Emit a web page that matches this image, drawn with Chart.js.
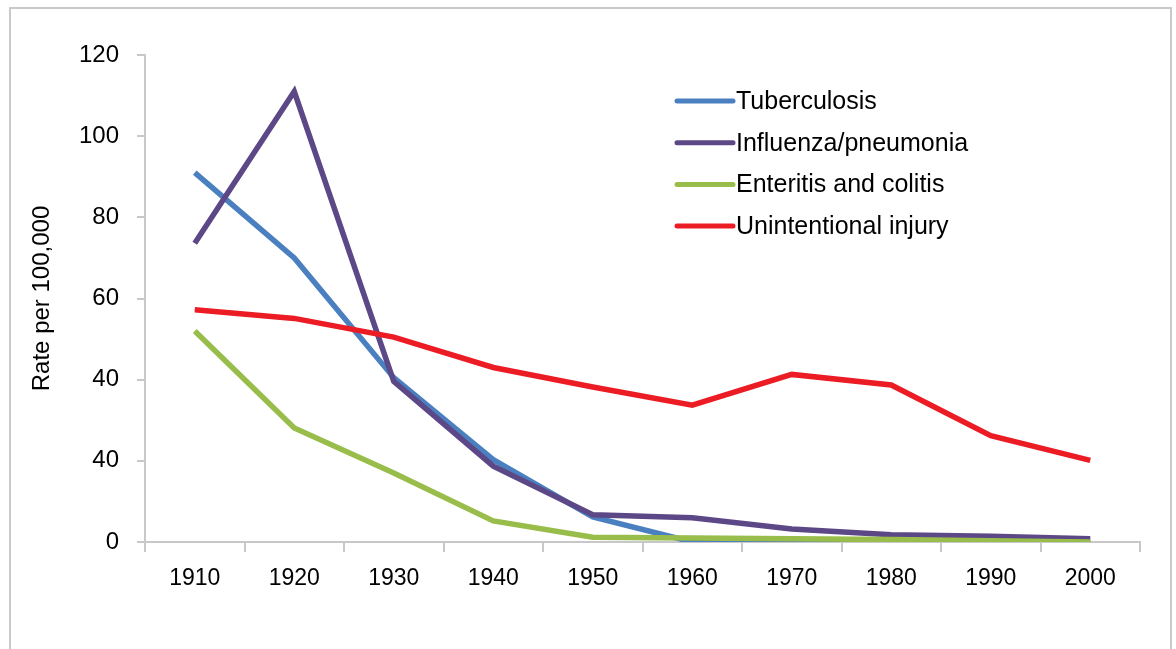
<!DOCTYPE html>
<html>
<head>
<meta charset="utf-8">
<script src="https://cdn.jsdelivr.net/npm/chart.js@4/dist/chart.umd.min.js"></script>
<style>
  html, body { margin: 0; padding: 0; background: #fff; }
  #frame {
    position: absolute; left: 9px; top: 7px; width: 1163px; height: 700px;
    border: 2px solid #c9c9c9; box-sizing: border-box;
  }
  #chart { position: absolute; left: 0; top: 0; }
</style>
</head>
<body>
<div id="frame"></div>
<canvas id="chart" width="1176" height="649"></canvas>
<script>
// data
const years = ['1910', '1920', '1930', '1940', '1950', '1960', '1970', '1980', '1990', '2000'];
const tuberculosis = [91, 70, 40.5, 20.3, 6.2, 0, 0, 0, 0, 0];
const influenza = [73.6, 111, 39.6, 18.7, 6.7, 6, 3.2, 1.8, 1.4, 0.8];
const enteritis = [52, 28.1, 17, 5.2, 1.2, 1, 0.8, 0.6, 0.3, 0];
const injury = [57.2, 55.1, 50.5, 43, 38.2, 33.7, 41.3, 38.7, 26.2, 20.1];
// tick labels exactly as printed (the second one reads "40" in the original)
const yTickLabels = ['0', '40', '40', '60', '80', '100', '120'];

const FONT = '"Liberation Sans", Arial, Helvetica, sans-serif';
const AXIS_GRAY = '#c8c8c8';
const TEXT = '#000';

// legend drawn inside the plot area, like the original
const insideLegend = {
  id: 'insideLegend',
  afterDatasetsDraw(chart) {
    const ctx = chart.ctx;
    ctx.save();
    ctx.font = '25px ' + FONT;
    ctx.textBaseline = 'middle';
    ctx.lineCap = 'round';
    chart.data.datasets.forEach((ds, i) => {
      const y = 101 + i * 41.7;
      ctx.strokeStyle = ds.borderColor;
      ctx.lineWidth = 5;
      ctx.beginPath();
      ctx.moveTo(677, y);
      ctx.lineTo(733, y);
      ctx.stroke();
      ctx.fillStyle = TEXT;
      ctx.fillText(ds.label, 736, y + 1);
    });
    ctx.restore();
  }
};

const makeSet = (label, data, color, order) => ({
  label,
  data,
  borderColor: color,
  backgroundColor: color,
  borderWidth: 5.5,
  pointRadius: 0,
  tension: 0,
  fill: false,
  order
});

new Chart(document.getElementById('chart'), {
  type: 'line',
  data: {
    labels: years,
    datasets: [
      makeSet('Tuberculosis', tuberculosis, '#4a7fc0', 4),
      makeSet('Influenza/pneumonia', influenza, '#5c4886', 3),
      makeSet('Enteritis and colitis', enteritis, '#98bd4a', 2),
      makeSet('Unintentional injury', injury, '#ec1c24', 1)
    ]
  },
  options: {
    responsive: false,
    animation: false,
    layout: { padding: { left: 24, top: 55, right: 36, bottom: 0 } },
    plugins: {
      legend: { display: false },
      tooltip: { enabled: false }
    },
    scales: {
      x: {
        offset: true,
        grid: {
          offset: true,
          drawOnChartArea: false,
          drawTicks: true,
          tickLength: 10,
          color: AXIS_GRAY,
          lineWidth: 2
        },
        border: { display: true, color: AXIS_GRAY, width: 2 },
        ticks: {
          color: TEXT,
          padding: 13,
          maxRotation: 0,
          font: { family: FONT, size: 23 }
        },
        afterFit(scale) { scale.height = 107; }
      },
      y: {
        min: 0,
        max: 120,
        grid: {
          drawOnChartArea: false,
          drawTicks: true,
          tickLength: 8,
          color: AXIS_GRAY,
          lineWidth: 2
        },
        border: { display: true, color: AXIS_GRAY, width: 2 },
        ticks: {
          stepSize: 20,
          color: TEXT,
          padding: 18,
          font: { family: FONT, size: 24 },
          callback: (value, index) => yTickLabels[index]
        },
        title: {
          display: true,
          text: 'Rate per 100,000',
          color: TEXT,
          padding: { top: 4, bottom: 4 },
          font: { family: FONT, size: 24 }
        },
        afterFit(scale) { scale.width = 121; }
      }
    }
  },
  plugins: [insideLegend]
});
</script>
</body>
</html>
